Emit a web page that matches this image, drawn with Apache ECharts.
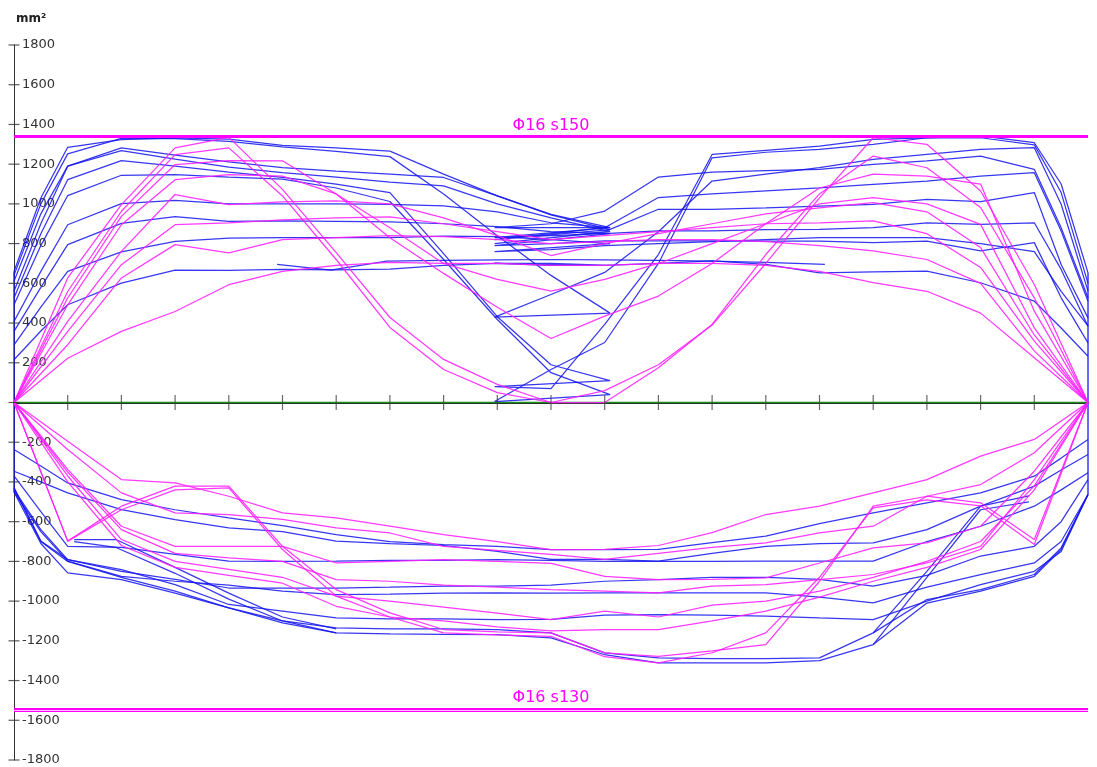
<!DOCTYPE html>
<html>
<head>
<meta charset="utf-8">
<script src="https://cdn.jsdelivr.net/npm/echarts/dist/echarts.min.js"></script>
<style>
  html, body { margin: 0; padding: 0; background: #ffffff; }
  #chart { width: 1097px; height: 767px; }
</style>
</head>
<body>
<div id="chart"></div>
<script>
// Required reinforcement area along the strip (mm²), upper (+) and lower (-) layers.

// station positions
const xTopLeft  = [0, 0.5, 1, 2, 3, 4, 5, 6, 7, 8, 9, 10, 11.1];
const xTopRight = [8.95, 10, 11, 12, 13, 14, 15, 16, 17, 18, 19, 19.5, 20];
const xInt      = [0, 1, 2, 3, 4, 5, 6, 7, 8, 9, 10, 11, 12, 13, 14, 15, 16, 17, 18, 19, 20];
const xBottom   = [0, 0.5, 1, 2, 3, 4, 5, 6, 7, 8, 9, 10, 11, 12, 13, 14, 15, 16, 17, 18, 19, 19.5, 20];

// axis tick positions
const xTicks = [1, 2, 3, 4, 5, 6, 7, 8, 9, 10, 11, 12, 13, 14, 15, 16, 17, 18, 19];
const yTicks = [-1800, -1600, -1400, -1200, -1000, -800, -600, -400, -200, 0,
                200, 400, 600, 800, 1000, 1200, 1400, 1600, 1800];

// upper layer, blue strips: left run then right run
const topBlueLeft = [
  [660, 1030, 1285, 1324, 1332, 1326, 1295, 1282, 1266, 1150, 1040, 947, 880],
  [640, 1000, 1252, 1330, 1328, 1315, 1287, 1265, 1238, 1050, 840, 640, 450],
  [610, 950, 1190, 1282, 1245, 1212, 1183, 1165, 1150, 1133, 1040, 945, 870],
  [560, 900, 1190, 1268, 1225, 1185, 1158, 1135, 1110, 1091, 1000, 930, 860],
  [526, 850, 1122, 1218, 1190, 1160, 1133, 1100, 1057, 750, 432, 190, 110],
  [492, 790, 1042, 1144, 1147, 1135, 1125, 1080, 1012, 720, 418, 150, 40],
  [408, 660, 895, 1001, 1018, 1000, 1000, 1000, 998, 990, 960, 905, 880],
  [358, 580, 795, 902, 936, 912, 914, 912, 910, 900, 885, 860, 850],
  [290, 480, 660, 758, 811, 828, 830, 830, 830, 838, 835, 820, 800],
  [215, 360, 492, 601, 667, 665, 670, 668, 672, 690, 700, 700, 690]
];
const topBlueRight = [
  [880, 900, 964, 1135, 1160, 1168, 1174, 1199, 1216, 1241, 1174, 880, 527],
  [430, 544, 655, 860, 1115, 1150, 1182, 1224, 1249, 1274, 1283, 998, 561],
  [820, 850, 880, 1032, 1050, 1065, 1081, 1098, 1115, 1140, 1157, 863, 510],
  [800, 830, 860, 973, 973, 980, 989, 997, 1023, 1011, 1057, 695, 426],
  [80, 70, 393, 745, 1249, 1270, 1291, 1325, 1333, 1342, 1308, 1100, 653],
  [5, 166, 302, 700, 1232, 1260, 1274, 1300, 1333, 1333, 1297, 1057, 600],
  [830, 840, 850, 864, 864, 870, 872, 880, 905, 897, 905, 670, 384],
  [790, 800, 814, 814, 814, 813, 813, 805, 813, 763, 805, 527, 300],
  [760, 770, 790, 800, 810, 820, 830, 830, 830, 800, 760, 560, 386],
  [700, 690, 690, 700, 713, 696, 653, 658, 662, 603, 510, 375, 233]
];
const xShortStrip = [4.9, 5.9, 6.94, 8, 9, 10, 11, 12, 13, 14, 15.1];
const yShortStrip = [695, 667, 712, 715, 718, 720, 718, 715, 712, 705, 695];

// upper layer, magenta strips
const topPink = [
  [0, 627, 996, 1282, 1335, 1073, 755, 428, 217, 91, 0, 60, 190, 390, 700, 1030, 1333, 1300, 1065, 594, 0],
  [0, 559, 963, 1248, 1282, 1040, 720, 378, 166, 50, 0, 0, 175, 393, 745, 1050, 1241, 1182, 982, 527, 0],
  [0, 526, 937, 1198, 1218, 1217, 1050, 830, 650, 480, 322, 435, 536, 700, 900, 1080, 1150, 1140, 1100, 460, 0],
  [0, 492, 895, 1122, 1147, 1140, 1050, 880, 700, 620, 561, 620, 700, 800, 900, 1000, 1031, 1000, 897, 376, 0],
  [0, 408, 761, 1047, 996, 1010, 1015, 1000, 930, 840, 740, 800, 850, 900, 950, 980, 1006, 960, 780, 340, 0],
  [0, 358, 694, 895, 904, 920, 930, 935, 900, 860, 820, 840, 860, 880, 900, 905, 914, 850, 680, 309, 0],
  [0, 291, 627, 795, 753, 820, 830, 840, 835, 820, 800, 810, 820, 820, 810, 790, 763, 720, 600, 260, 0],
  [0, 223, 358, 458, 593, 660, 690, 705, 700, 700, 690, 690, 700, 700, 690, 660, 604, 560, 450, 225, 0]
];

// lower layer, blue strips
const bottomBlue = [
  [-237, -320, -405, -489, -540, -581, -620, -665, -700, -715, -724, -741, -741, -740, -705, -673, -610, -556, -505, -455, -371, -280, -186],
  [-346, -400, -455, -539, -590, -631, -650, -698, -710, -720, -750, -790, -790, -799, -760, -724, -710, -707, -640, -522, -421, -340, -262],
  [-370, -550, -724, -730, -765, -799, -800, -799, -795, -795, -791, -795, -800, -800, -800, -799, -799, -799, -700, -623, -522, -440, -354],
  [-440, -640, -791, -850, -890, -934, -934, -934, -930, -925, -925, -920, -900, -892, -880, -880, -890, -925, -870, -773, -724, -600, -388],
  [-450, -650, -799, -875, -900, -920, -950, -967, -965, -960, -959, -960, -959, -959, -959, -959, -980, -1009, -930, -867, -808, -700, -463],
  [-430, -698, -791, -841, -917, -1017, -1050, -1085, -1090, -1090, -1093, -1092, -1070, -1068, -1070, -1076, -1085, -1093, -1000, -917, -850, -750, -463],
  [-430, -700, -800, -880, -950, -1034, -1100, -1135, -1140, -1140, -1143, -1160, -1261, -1286, -1290, -1290, -1286, -1160, -992, -942, -866, -732, -463],
  [-450, -710, -858, -892, -960, -1034, -1110, -1160, -1165, -1168, -1169, -1185, -1270, -1311, -1311, -1311, -1300, -1219, -1010, -950, -875, -740, -463]
];
const bottomBlueHooks = [
  [[1.12, -690], [1.9, -690], [3, -830], [4, -960], [5, -1080], [6, -1140]],
  [[1.12, -700], [1.9, -730], [3, -860], [4, -990], [5, -1100], [6, -1160]],
  [[16, -1160], [17, -850], [18, -522], [18.9, -470]],
  [[16, -1219], [17, -880], [18, -540], [18.9, -500]]
];
// support edges
const edgeX = [0, 20];
const edgeTop = [660, 653];
const edgeBottom = [-450, -463];

// lower layer, magenta strips
const bottomPink = [
  [0, -195, -388, -405, -472, -556, -581, -623, -665, -700, -741, -740, -720, -655, -564, -522, -455, -388, -270, -186, 0],
  [0, -237, -455, -556, -564, -589, -631, -657, -724, -745, -765, -790, -760, -730, -707, -657, -623, -472, -413, -253, 0],
  [0, -698, -522, -421, -421, -724, -942, -1059, -1143, -1155, -1160, -1261, -1278, -1250, -1219, -900, -522, -472, -505, -690, 0],
  [0, -698, -540, -440, -430, -740, -975, -1080, -1160, -1170, -1177, -1280, -1311, -1260, -1160, -880, -530, -490, -520, -715, 0],
  [0, -337, -623, -724, -724, -724, -808, -800, -791, -800, -810, -875, -892, -890, -883, -808, -732, -707, -623, -346, 0],
  [0, -350, -640, -760, -782, -800, -892, -900, -920, -930, -942, -950, -959, -925, -917, -892, -866, -808, -724, -388, 0],
  [0, -370, -690, -800, -840, -880, -975, -1000, -1030, -1060, -1093, -1050, -1080, -1020, -1000, -950, -880, -800, -700, -420, 0],
  [0, -400, -720, -830, -870, -910, -1026, -1080, -1100, -1130, -1150, -1143, -1143, -1100, -1050, -980, -900, -830, -740, -440, 0]
];

// provided reinforcement
const limitValues = [1340, -1547];
const limitLabels = ['Φ16 s150', 'Φ16 s130'];
const zeroLine = [[0, 0], [20, 0]];

const BLUE = 'rgba(20,20,240,0.85)';
const PINK = 'rgba(255,30,255,0.88)';
const FONT = 'DejaVu Sans, Verdana, sans-serif';

function zip(xs, ys) { return xs.map((x, i) => [x, ys[i]]); }

function lineSeries(data, color, width) {
  return {
    type: 'line', data: data, showSymbol: false, symbol: 'none',
    lineStyle: { color: color, width: width || 1.25 },
    silent: true, animation: false, z: 3
  };
}

const series = [];

// zero line with the provided reinforcement limits
series.push({
  type: 'line', data: zeroLine, showSymbol: false, symbol: 'none',
  lineStyle: { color: '#1c8c1c', width: 1.3 }, silent: true, animation: false, z: 2,
  markLine: {
    silent: true, symbol: 'none', animation: false,
    data: [
      { yAxis: limitValues[0], lineStyle: { color: '#ff00ff', width: 3, type: 'solid' },
        label: { show: true, formatter: limitLabels[0], position: 'insideMiddleTop', distance: 3,
                 color: '#ff00ff', fontSize: 16, fontFamily: FONT } },
      { yAxis: limitValues[1], lineStyle: { color: '#ff00ff', width: 4, type: 'solid' },
        label: { show: true, formatter: limitLabels[1], position: 'insideMiddleTop', distance: 4,
                 color: '#ff00ff', fontSize: 16, fontFamily: FONT } },
      { yAxis: limitValues[1], lineStyle: { color: '#ffc0ff', width: 1, type: 'solid' }, label: { show: false } }
    ]
  }
});

// tick marks crossing both axes
series.push({
  type: 'scatter', data: xTicks.map(v => [v, 0]), symbol: 'rect', symbolSize: [1.2, 15],
  itemStyle: { color: '#444' }, silent: true, animation: false, clip: false, z: 4
});
series.push({
  type: 'scatter', data: yTicks.map(v => [0, v]), symbol: 'rect', symbolSize: [11, 1.2],
  itemStyle: { color: '#333' }, silent: true, animation: false, clip: false, z: 4
});

// support edges
edgeX.forEach((x, i) => series.push(lineSeries([[x, edgeTop[i]], [x, edgeBottom[i]]], BLUE, 1.5)));

// blue strips
topBlueLeft.forEach((vals, i) => {
  series.push(lineSeries(zip(xTopLeft, vals).concat(zip(xTopRight, topBlueRight[i])), BLUE));
});
series.push(lineSeries(zip(xShortStrip, yShortStrip), BLUE));
bottomBlue.forEach(vals => series.push(lineSeries(zip(xBottom, vals), BLUE)));
bottomBlueHooks.forEach(pts => series.push(lineSeries(pts, BLUE)));

// magenta strips
topPink.forEach(vals => series.push(lineSeries(zip(xInt, vals), PINK)));
bottomPink.forEach(vals => series.push(lineSeries(zip(xInt, vals), PINK)));

const chart = echarts.init(document.getElementById('chart'), null, { renderer: 'canvas' });
chart.setOption({
  backgroundColor: '#ffffff',
  animation: false,
  title: {
    text: 'mm²', left: 11, top: 8,
    textStyle: { fontSize: 12, fontWeight: 'bold', color: '#222', fontFamily: FONT }
  },
  grid: { left: 14, right: 9, top: 45, bottom: 7, containLabel: false },
  xAxis: {
    type: 'value', min: 0, max: 20, interval: 1, position: 'bottom',
    axisLine: { onZero: true, lineStyle: { color: '#222', width: 2 } },
    axisTick: { show: false },
    axisLabel: { show: false }, splitLine: { show: false }
  },
  yAxis: {
    type: 'value', min: -1800, max: 1800, interval: 200, position: 'left',
    axisLine: { show: true, onZero: false, lineStyle: { color: '#333', width: 1 } },
    axisTick: { show: false },
    axisLabel: {
      inside: true, margin: 8, color: '#333', fontSize: 13, fontFamily: FONT,
      formatter: v => (v === 0 ? '' : String(v))
    },
    splitLine: { show: false }
  },
  series: series
});
</script>
</body>
</html>
